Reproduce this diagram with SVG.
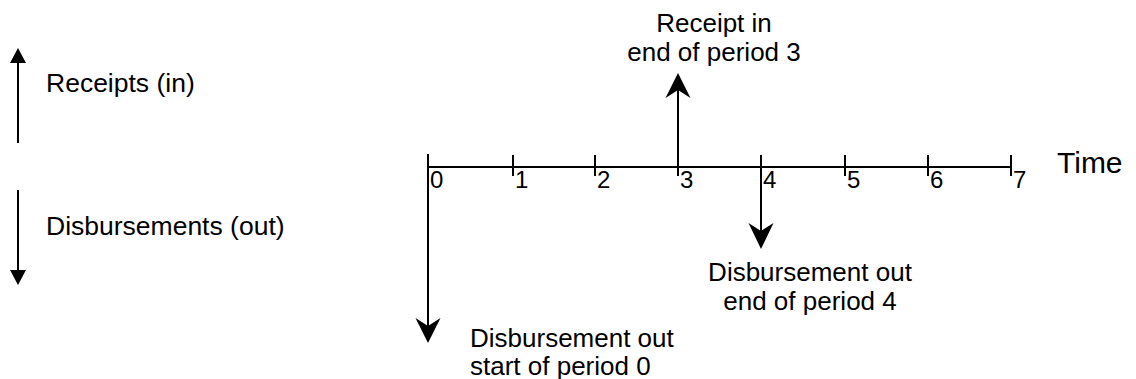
<svg xmlns="http://www.w3.org/2000/svg" width="1136" height="379" viewBox="0 0 1136 379">
<style>
.ln{stroke:#000;stroke-width:2;fill:none}
.hd{fill:#000;stroke:none}
text{font-family:"Liberation Sans",Arial,sans-serif;fill:#000}
.lg{font-size:26.5px}
.lb{font-size:26px}
.dg{font-size:24px}
.tm{font-size:30px}
</style>
<rect width="1136" height="379" fill="#fff"/>
<g id="legend-in">
<line class="ln" x1="18" y1="143" x2="18" y2="60"/>
<path class="hd" d="M18,48 L26,63 L10,63 Z"/>
<text class="lg" x="46" y="92">Receipts (in)</text>
</g>
<g id="legend-out">
<line class="ln" x1="18" y1="190" x2="18" y2="272"/>
<path class="hd" d="M18,285 L26,270 L10,270 Z"/>
<text class="lg" x="46" y="235">Disbursements (out)</text>
</g>
<g id="timeline">
<line class="ln" x1="428" y1="167" x2="1011" y2="167"/>
<line class="ln" x1="428" y1="154" x2="428" y2="176"/>
<line class="ln" x1="513" y1="155" x2="513" y2="176"/>
<line class="ln" x1="595" y1="155" x2="595" y2="176"/>
<line class="ln" x1="678" y1="155" x2="678" y2="176"/>
<line class="ln" x1="761" y1="155" x2="761" y2="176"/>
<line class="ln" x1="845" y1="155" x2="845" y2="176"/>
<line class="ln" x1="928" y1="155" x2="928" y2="176"/>
<line class="ln" x1="1011" y1="155" x2="1011" y2="176"/>
<text class="dg" x="430" y="188">0</text>
<text class="dg" x="515" y="188">1</text>
<text class="dg" x="597" y="188">2</text>
<text class="dg" x="680" y="188">3</text>
<text class="dg" x="763" y="188">4</text>
<text class="dg" x="847" y="188">5</text>
<text class="dg" x="930" y="188">6</text>
<text class="dg" x="1013" y="188">7</text>
<text class="tm" x="1057" y="173">Time</text>
</g>
<g id="connectors">
<line class="ln" x1="678" y1="167" x2="678" y2="88"/>
<path class="hd" d="M678,73 L690.5,98 L678,90 L665.5,98 Z"/>
<line class="ln" x1="428" y1="176" x2="428" y2="330"/>
<path class="hd" d="M428,343 L440.5,318 L428,326 L415.5,318 Z"/>
<line class="ln" x1="761" y1="176" x2="761" y2="236"/>
<path class="hd" d="M761,249 L773.5,223 L761,231 L748.5,223 Z"/>
</g>
<g id="label-receipt3">
<text class="lb" text-anchor="middle" x="714" y="32">Receipt in</text>
<text class="lb" text-anchor="middle" x="714" y="61">end of period 3</text>
</g>
<g id="label-disb4">
<text class="lb" text-anchor="middle" x="810" y="281">Disbursement out</text>
<text class="lb" text-anchor="middle" x="810" y="310">end of period 4</text>
</g>
<g id="label-disb0">
<text class="lb" x="470" y="347">Disbursement out</text>
<text class="lb" x="470" y="375">start of period 0</text>
</g>
</svg>
